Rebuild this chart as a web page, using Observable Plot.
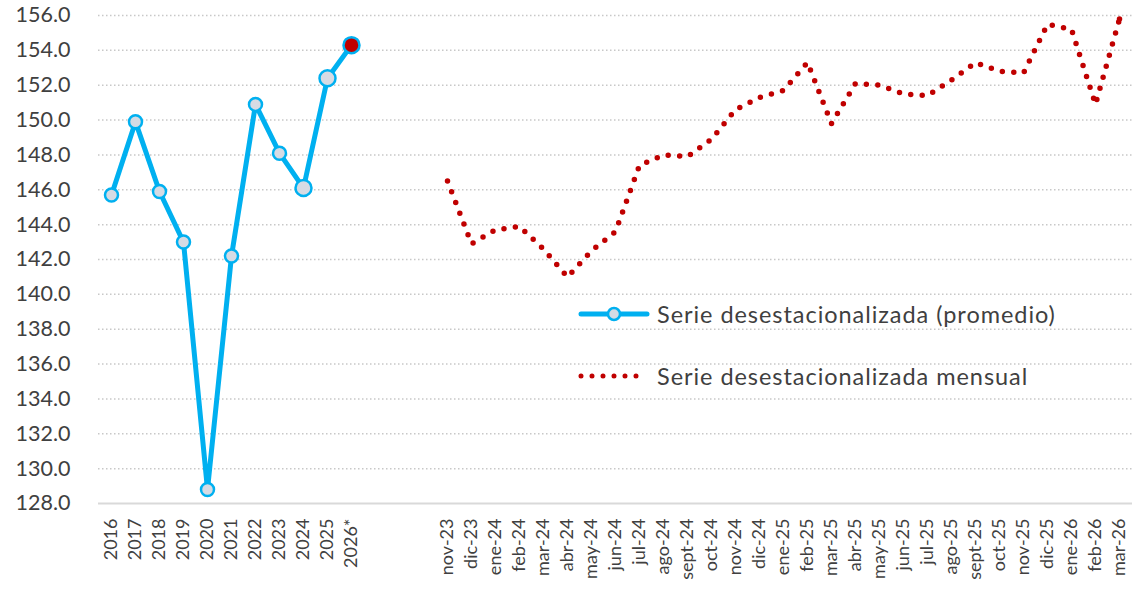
<!DOCTYPE html>
<html>
<head>
<meta charset="utf-8">
<script src="https://cdn.jsdelivr.net/npm/d3@7"></script>
<script src="https://cdn.jsdelivr.net/npm/@observablehq/plot@0.6"></script>
<style>
  html, body { margin: 0; padding: 0; background: #fff; }
  #wrap { position: relative; width: 1132px; height: 597px; font-family: Lato, "Open Sans", sans-serif; }
  .leg { position: absolute; left: 578px; display: flex; align-items: center; font-size: 23.5px; letter-spacing: 0.95px; color: #404040; white-space: nowrap; }
  .leg svg { margin-right: 7px; }
</style>
</head>
<body>
<div id="wrap"></div>
<script>
// Annual averages (seasonally adjusted)
const years = ["2016", "2017", "2018", "2019", "2020", "2021", "2022", "2023", "2024", "2025", "2026*"];
const annualValues = [145.7, 149.9, 145.9, 143.0, 128.8, 142.2, 150.9, 148.1, 146.1, 152.4, 154.3];

// Monthly seasonally adjusted series
const months = ["nov-23", "dic-23", "ene-24", "feb-24", "mar-24", "abr-24", "may-24", "jun-24", "jul-24", "ago-24",
  "sept-24", "oct-24", "nov-24", "dic-24", "ene-25", "feb-25", "mar-25", "abr-25", "may-25", "jun-25",
  "jul-25", "ago-25", "sept-25", "oct-25", "nov-25", "dic-25", "ene-26", "feb-26", "mar-26"];
const monthlyValues = [146.5, 142.9, 143.7, 143.9, 142.6, 141.0, 142.5, 143.6, 147.4, 148.0,
  147.9, 148.9, 150.6, 151.3, 151.7, 153.3, 149.8, 152.1, 152.0, 151.5,
  151.4, 152.3, 153.3, 152.8, 152.7, 155.5, 155.2, 150.9, 155.8];

// Empty slots separating the two series on the category axis
const spacers = ["_gap1", "_gap2", "_gap3"];

const yTicks = d3.range(128, 157, 2);
const legendLabels = ["Serie desestacionalizada (promedio)", "Serie desestacionalizada mensual"];

const annual = years.map((k, i) => ({k, v: annualValues[i], last: i === years.length - 1, big: i >= years.length - 3}));
const monthly = months.map((k, i) => ({k, v: monthlyValues[i]}));

const BLUE = "#00B0F0", RED = "#C00000", TEXT = "#404040";

const chart = Plot.plot({
  width: 1132,
  height: 597,
  marginLeft: 98,
  marginRight: 0,
  marginTop: 15,
  marginBottom: 94,
  style: {fontFamily: "Lato, 'Open Sans', sans-serif", color: TEXT, background: "#fff"},
  x: {type: "point", domain: [...years, ...spacers, ...months], padding: 0.5, label: null},
  y: {domain: [128, 156], label: null},
  r: {type: "identity"},
  marks: [
    Plot.gridY(yTicks.slice(1), {stroke: "#C8C8C8", strokeOpacity: 1, strokeWidth: 1.5, strokeDasharray: "1.5 2.5"}),
    Plot.ruleY([128], {stroke: "#D9D9D9", strokeWidth: 2}),
    Plot.axisY({ticks: yTicks, tickFormat: d => d.toFixed(1), tickSize: 0, tickPadding: 28, fontSize: 21.5, fill: TEXT, label: null}),
    Plot.axisX({ticks: [...years, ...months], tickRotate: -90, tickSize: 0, tickPadding: 15, fontSize: 18, fill: TEXT, label: null}),
    Plot.line(monthly, {x: "k", y: "v", stroke: RED, strokeWidth: 5.5, strokeLinecap: "round", strokeDasharray: "0 11.5"}),
    Plot.dot(monthly.slice(-1), {x: "k", y: "v", r: 2.75, fill: RED}),
    Plot.line(annual, {x: "k", y: "v", stroke: BLUE, strokeWidth: 5, strokeLinejoin: "round"}),
    Plot.dot(annual, {x: "k", y: "v", r: d => d.big ? 8 : 6.5, fill: d => d.last ? RED : "#D6DBE4", stroke: BLUE, strokeWidth: 2.5})
  ]
});
chart.style.position = "absolute";
chart.style.left = "0";
chart.style.top = "0";
const wrap = document.getElementById("wrap");
wrap.appendChild(chart);

// Legend (HTML, laid over the plot area)
const leg1 = document.createElement("div");
leg1.className = "leg";
leg1.style.top = "299px";
leg1.innerHTML = `<svg width="72" height="30"><line x1="3" y1="15" x2="69" y2="15" stroke="${BLUE}" stroke-width="5" stroke-linecap="round"/><circle cx="36" cy="15" r="6" fill="#D6DBE4" stroke="${BLUE}" stroke-width="2.5"/></svg><span></span>`;
leg1.querySelector("span").textContent = legendLabels[0];
wrap.appendChild(leg1);

const leg2 = document.createElement("div");
leg2.className = "leg";
leg2.style.top = "361px";
leg2.innerHTML = `<svg width="72" height="30"><line x1="3" y1="15" x2="69" y2="15" stroke="${RED}" stroke-width="5" stroke-linecap="round" stroke-dasharray="0 11"/></svg><span></span>`;
leg2.querySelector("span").textContent = legendLabels[1];
wrap.appendChild(leg2);
</script>
</body>
</html>
